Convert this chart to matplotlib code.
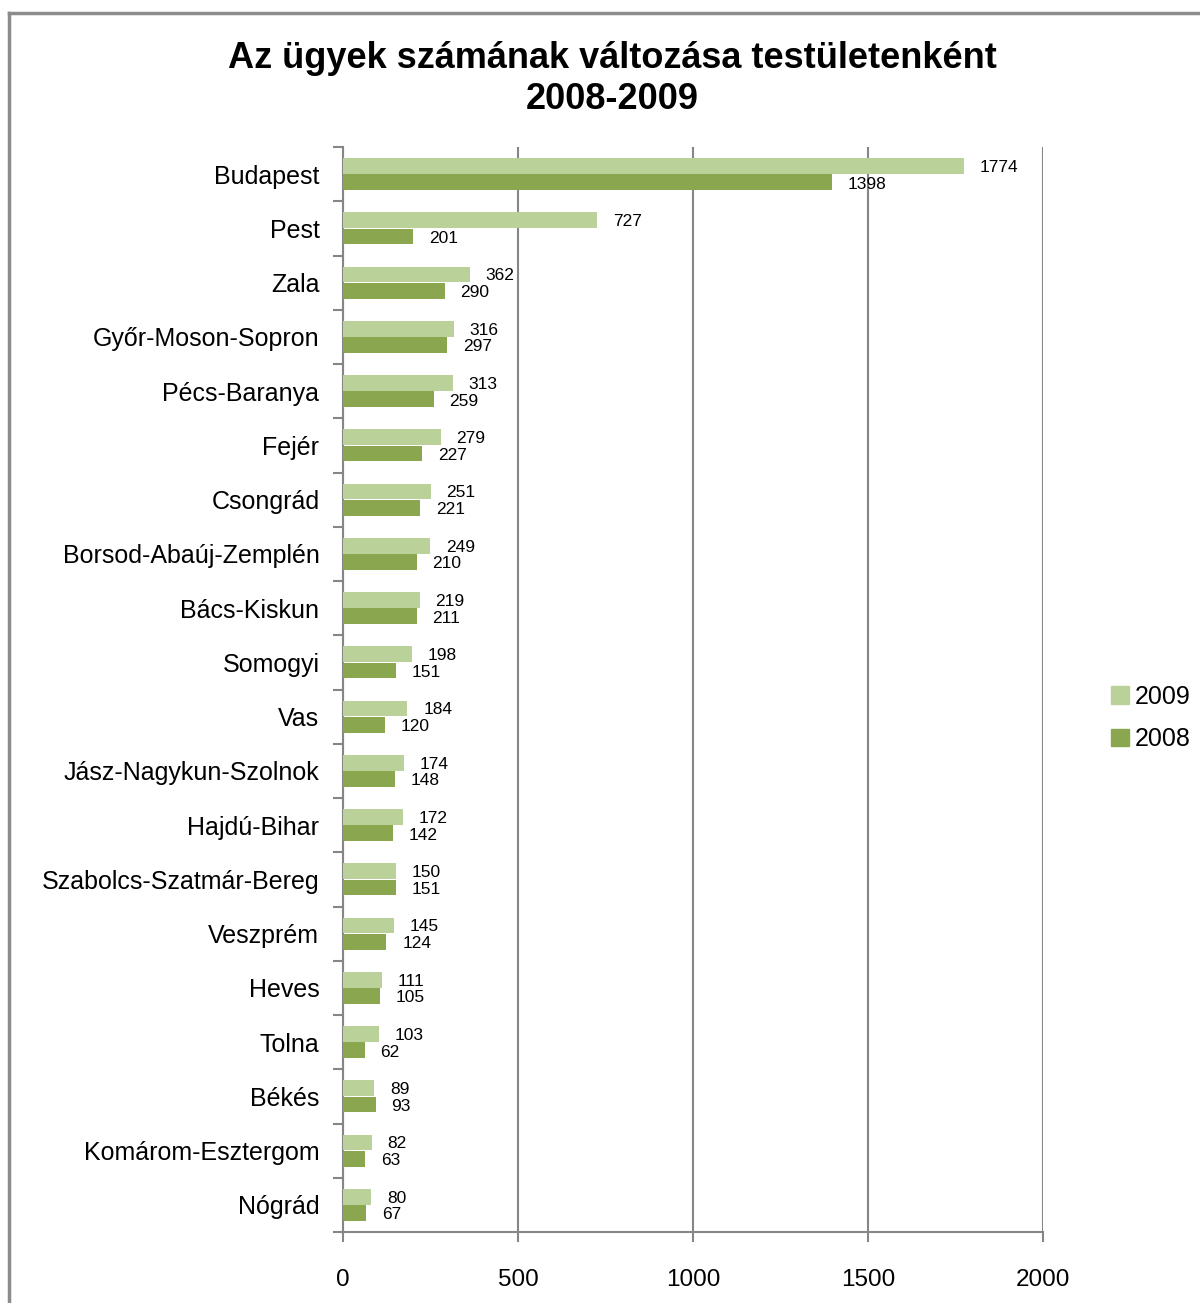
import matplotlib
matplotlib.use("Agg")
import matplotlib.pyplot as plt
import numpy as np
from matplotlib.patches import Rectangle
from matplotlib.lines import Line2D

plt.rcParams['font.family'] = ['Liberation Sans', 'DejaVu Sans']

categories = ["Budapest", "Pest", "Zala", "Győr-Moson-Sopron", "Pécs-Baranya", "Fejér",
              "Csongrád", "Borsod-Abaúj-Zemplén", "Bács-Kiskun", "Somogyi", "Vas",
              "Jász-Nagykun-Szolnok", "Hajdú-Bihar", "Szabolcs-Szatmár-Bereg", "Veszprém",
              "Heves", "Tolna", "Békés", "Komárom-Esztergom", "Nógrád"]
values_2009 = [1774, 727, 362, 316, 313, 279, 251, 249, 219, 198, 184, 174, 172, 150, 145, 111, 103, 89, 82, 80]
values_2008 = [1398, 201, 290, 297, 259, 227, 221, 210, 211, 151, 120, 148, 142, 151, 124, 105, 62, 93, 63, 67]
xticks = [0, 500, 1000, 1500, 2000]
title = "Az ügyek számának változása testületenként\n2008-2009"

c2009 = "#BBD19A"
c2008 = "#8AA64E"
grid_c = "#868686"

fig = plt.figure(figsize=(12, 13.03), dpi=100)
ax = fig.add_axes([343/1200, 71/1303, 700/1200, 1085/1303])

y = np.arange(len(categories))
h = 0.29
ax.barh(y - h/2 - 0.005, values_2009, height=h, color=c2009, label="2009", zorder=3)
ax.barh(y + h/2 + 0.005, values_2008, height=h, color=c2008, label="2008", zorder=3)

for yi, v9, v8 in zip(y, values_2009, values_2008):
    ax.text(v9 + 45, yi - h/2 + 0.02, str(v9), fontsize=12.5, va='center', ha='left', zorder=4)
    ax.text(v8 + 45, yi + h/2 + 0.04, str(v8), fontsize=12.5, va='center', ha='left', zorder=4)

ax.set_xlim(0, 2000)
ax.set_ylim(len(categories) - 0.5, -0.5)
ax.set_xticks(xticks)
ax.set_xticklabels([str(t) for t in xticks], fontsize=17.5)
ax.set_yticks(y)
ax.set_yticklabels(categories, fontsize=18)
ax.tick_params(axis='y', length=0, pad=17)
ax.tick_params(axis='x', length=7, width=1.5, color=grid_c, pad=20, direction='out')
ax.set_yticks(np.arange(-0.5, len(categories) + 0.5, 1), minor=True)
ax.tick_params(axis='y', which='minor', length=7, width=1.5, color=grid_c, direction='out')
ax.grid(axis='x', color=grid_c, linewidth=1.5, zorder=0)
for s in ['top', 'right']:
    ax.spines[s].set_visible(False)
for s in ['left', 'bottom']:
    ax.spines[s].set_color(grid_c)
    ax.spines[s].set_linewidth(1.5)
ax.set_axisbelow(True)

fig.text(612/1200, 1 - 79/1303, title, fontsize=26, fontweight='bold', ha='center', va='center', linespacing=1.22)

leg = fig.legend(handles=[Rectangle((0, 0), 1, 1, color=c2009), Rectangle((0, 0), 1, 1, color=c2008)],
                 labels=["2009", "2008"], loc='center left', bbox_to_anchor=(1111/1200, 1 - 718/1303),
                 frameon=False, fontsize=18, handlelength=0.7, handleheight=0.7, handletextpad=0.25,
                 labelspacing=0.75, borderpad=0, borderaxespad=0)

# outer chart border
fig.add_artist(Line2D([9/1200, 9/1200], [0, 1 - 13/1303], color="#8c8c8c", linewidth=2.5, transform=fig.transFigure))
fig.add_artist(Line2D([9/1200, 1], [1 - 13/1303, 1 - 13/1303], color="#8c8c8c", linewidth=2.5, transform=fig.transFigure))

fig.savefig("out.png", dpi=100)
